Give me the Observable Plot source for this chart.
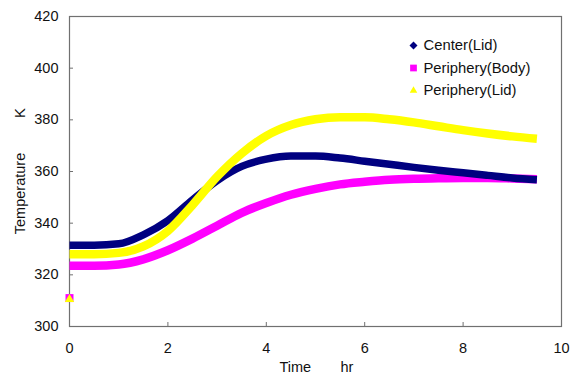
<!DOCTYPE html>
<html>
<head>
<meta charset="utf-8">
<script src="https://cdn.jsdelivr.net/npm/d3@7"></script>
<script src="https://cdn.jsdelivr.net/npm/@observablehq/plot@0.6"></script>
<style>
  html, body { margin: 0; padding: 0; background: #fff; }
  #chart { width: 573px; height: 376px; }
</style>
</head>
<body>
<div id="chart"></div>
<script>
const time = [0, 0.5, 1, 1.5, 2, 2.5, 3, 3.5, 4, 4.5, 5, 5.5, 6, 6.5, 7, 7.5, 8, 8.5, 9, 9.5];
const centerLid = [331.5, 331.5, 332, 335.5, 341, 349, 356.5, 362, 364.8, 366, 366, 365.2, 364, 362.8, 361.6, 360.5, 359.5, 358.5, 357.5, 356.8];
const peripheryBody = [323.5, 323.5, 324, 326, 329.5, 334, 339, 344, 347.8, 351, 353.3, 355, 356, 356.8, 357.2, 357.4, 357.5, 357.5, 357.3, 357];
const peripheryLid = [328, 328, 328.5, 331, 337, 347, 358, 367, 373.8, 378, 380.2, 381, 381, 380.2, 379, 377.5, 376, 374.7, 373.6, 372.7];
const initialTime = [0];
const initialBody = [311];
const initialLid = [310.5];
const seriesNames = ["Center(Lid)", "Periphery(Body)", "Periphery(Lid)"];
const seriesColors = ["#000080", "#ff00ff", "#ffff00"];
const seriesSymbols = ["diamond2", "square", "triangle2"];
const xTicks = [0, 2, 4, 6, 8, 10];
const yTicks = [300, 320, 340, 360, 380, 400, 420];

const rows = (vals, name) => time.map((t, i) => ({t, v: vals[i], s: name}));
const body = rows(peripheryBody, seriesNames[1]);
const center = rows(centerLid, seriesNames[0]);
const lid = rows(peripheryLid, seriesNames[2]);

const font = "'Liberation Sans', Arial, sans-serif";

const legendMarks = seriesNames.flatMap((name, i) => [
  Plot.dot([name], {frameAnchor: "top-left", dx: 344, dy: 29 + 22.5 * i, symbol: seriesSymbols[i], fill: seriesColors[i], r: i === 1 ? 3.8 : 3.6}),
  Plot.text([name], {frameAnchor: "top-left", dx: 354, dy: 29 + 22.5 * i, text: d => d, textAnchor: "start", lineAnchor: "middle", fontSize: 14.8, fill: "#111"})
]);

const chart = Plot.plot({
  width: 573,
  height: 376,
  marginLeft: 69,
  marginRight: 12,
  marginTop: 16,
  marginBottom: 50,
  style: {fontFamily: font, fontSize: "14px", color: "#111", background: "#fff"},
  x: {domain: [0, 10]},
  y: {domain: [300, 420]},
  marks: [
    Plot.frame({stroke: "#707070", strokeWidth: 1.2}),
    Plot.axisX({ticks: xTicks, tickSize: -4, tickPadding: 20, stroke: "#707070", label: null, fontSize: 14.5}),
    Plot.axisY({ticks: yTicks, tickSize: -4, tickPadding: 15, stroke: "#707070", label: null, fontSize: 14.5}),
    Plot.line(body, {x: "t", y: "v", stroke: seriesColors[1], strokeWidth: 8.5, curve: "monotone-x", strokeLinecap: "butt"}),
    Plot.line(center, {x: "t", y: "v", stroke: seriesColors[0], strokeWidth: 7.5, curve: "monotone-x", strokeLinecap: "butt"}),
    Plot.line(lid, {x: "t", y: "v", stroke: seriesColors[2], strokeWidth: 8.5, curve: "monotone-x", strokeLinecap: "butt"}),
    Plot.dot(initialTime.map((t, i) => ({t, v: initialBody[i]})), {x: "t", y: "v", symbol: "square", fill: seriesColors[1], r: 4.5}),
    Plot.dot(initialTime.map((t, i) => ({t, v: initialLid[i]})), {x: "t", y: "v", symbol: "triangle2", fill: seriesColors[2], r: 4.5}),
    ...legendMarks,
    Plot.text(["Temperature"], {frameAnchor: "left", dx: -49, dy: 22, rotate: -90, textAnchor: "middle", lineAnchor: "middle", fontSize: 14.5, fill: "#111"}),
    Plot.text(["K"], {frameAnchor: "top-left", dx: -49, dy: 96.5, rotate: -90, textAnchor: "middle", lineAnchor: "middle", fontSize: 15, fill: "#111"}),
    Plot.text(["Time"], {frameAnchor: "bottom-left", dx: 210, dy: 41, textAnchor: "start", lineAnchor: "middle", fontSize: 14.5, fill: "#111"}),
    Plot.text(["hr"], {frameAnchor: "bottom-left", dx: 271, dy: 41, textAnchor: "start", lineAnchor: "middle", fontSize: 14.5, fill: "#111"})
  ]
});
document.getElementById("chart").appendChild(chart);
</script>
</body>
</html>
